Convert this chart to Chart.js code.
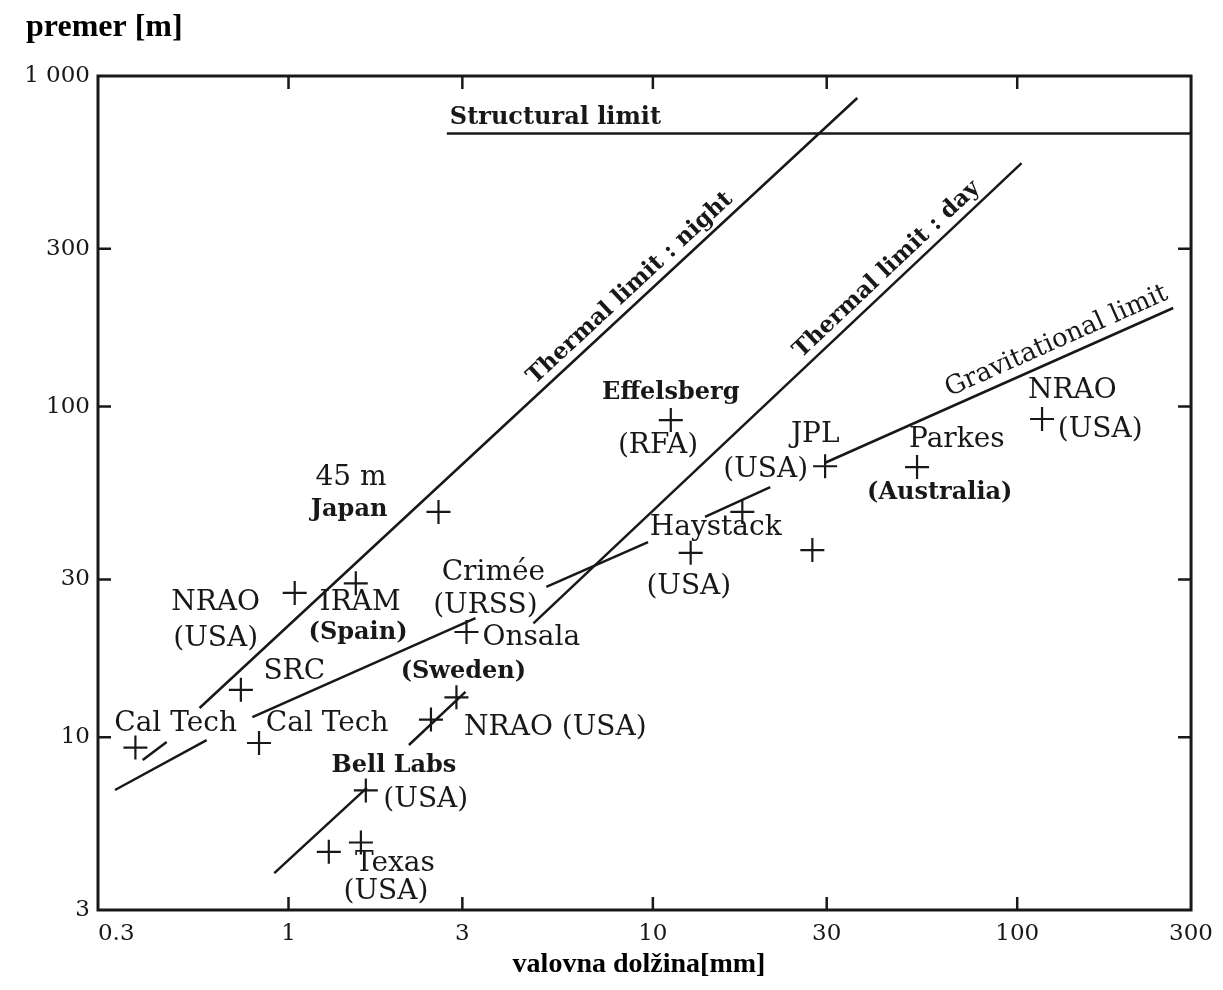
<!DOCTYPE html>
<html>
<head>
<meta charset="utf-8">
<title>Premer anten in valovna dolžina</title>
<script src="https://cdn.jsdelivr.net/npm/chart.js@4.4.1/dist/chart.umd.min.js"></script>
<style>
  html, body { margin: 0; padding: 0; background: #ffffff; }
  #wrap { width: 1223px; height: 990px; }
</style>
</head>
<body>
<div id="wrap"><canvas id="chart" width="1223" height="990"></canvas></div>
<script>
// Axis ticks (log scales)
const wavelengthTicks = [0.3, 1, 3, 10, 30, 100, 300];
const wavelengthTickLabels = ['     0.3', '1', '3', '10', '30', '100', '300'];
const diameterTicks = [3, 10, 30, 100, 300, 1000];
const diameterTickLabels = ['3', '10', '30', '100', '300', '1 000'];
const innerTickWavelengths = [1, 3, 10, 30, 100];
const innerTickDiameters = [10, 30, 100, 300];

// Telescopes: wavelength [mm], diameter [m]
const stationWavelength = [0.38, 0.83, 0.74, 1.04, 1.53, 2.58, 3.08, 2.46, 2.89, 1.63, 1.29, 1.58, 11.2, 12.7, 17.6, 27.4, 29.7, 53.1, 117];
const stationDiameter   = [9.3,  9.6,  13.9, 27.3, 29.2, 48,   20.8, 11.3, 13.2, 6.9,  4.5,  4.8,  91,   36.1, 48,   36.8, 66,   65.6, 91.7];

// Limit curves (null breaks the line where a label sits)
const structuralLimitWavelength = [2.72, 300];
const structuralLimitDiameter   = [670, 670];

const nightLimitWavelength = [0.398, 0.463, null, 0.570, 36.4];
const nightLimitDiameter   = [8.53,  9.67,  null, 12.25, 858];

const dayLimitWavelength = [4.70, 102.8];
const dayLimitDiameter   = [22.1, 545];

const gravityLimitWavelength = [0.334, 0.596, null, 0.796, 3.26, null, 5.10, 9.70, null, 13.9, 21.0, null, 29.6, 268];
const gravityLimitDiameter   = [6.92,  9.8,   null, 11.5,  22.9, null, 28.5, 38.9, null, 46.4, 57.1, null, 67.5, 198.7];

const smallDishLimitWavelength = [0.914, 1.64, null, 2.14, 3.06];
const smallDishLimitDiameter   = [3.88,  7.02, null, 9.47, 13.7];

// Telescope names placed at [text, wavelength, diameter, weight]
const stationLabels = [
  ['Cal Tech', 0.490, 10.96],
  ['Cal Tech', 1.277, 10.96],
  ['SRC', 1.037, 15.74],
  ['NRAO', 0.631, 25.47],
  ['(USA)', 0.631, 19.82],
  ['IRAM', 1.572, 25.47],
  ['(Spain)', 1.552, 20.67, 'bold'],
  ['45 m', 1.485, 60.8],
  ['Japan', 1.466, 48.7, 'bold'],
  ['Crimée', 3.65, 31.4],
  ['(URSS)', 3.47, 24.9],
  ['Onsala', 4.64, 19.96],
  ['(Sweden)', 3.02, 15.74, 'bold'],
  ['NRAO (USA)', 5.40, 10.66],
  ['Bell Labs', 1.947, 8.18, 'bold'],
  ['(USA)', 2.381, 6.46],
  ['Texas', 1.959, 4.135],
  ['(USA)', 1.851, 3.40],
  ['Effelsberg', 11.2, 109.9, 'bold'],
  ['(RFA)', 10.33, 76.0],
  ['Haystack', 14.88, 42.9],
  ['(USA)', 12.55, 28.5],
  ['JPL', 27.9, 82.1],
  ['(USA)', 20.4, 64.3],
  ['Parkes', 68.3, 79.3],
  ['(Australia)', 61.3, 54.8, 'bold'],
  ['NRAO', 141.7, 111.5],
  ['(USA)', 169, 85.0]
];

const ink = '#1a1816';
const serif = '"DejaVu Serif", "Liberation Serif", serif';

const pairs = (xs, ys) => xs.map((x, i) => ({ x: x, y: ys[i] }));

const lineStyle = {
  showLine: true,
  borderColor: ink,
  borderWidth: 2.5,
  pointRadius: 0,
  spanGaps: false,
  fill: false
};

const datasets = [
  Object.assign({ label: 'Structural limit', data: pairs(structuralLimitWavelength, structuralLimitDiameter) }, lineStyle),
  Object.assign({ label: 'Thermal limit : night', data: pairs(nightLimitWavelength, nightLimitDiameter) }, lineStyle),
  Object.assign({ label: 'Thermal limit : day', data: pairs(dayLimitWavelength, dayLimitDiameter) }, lineStyle),
  Object.assign({ label: 'Gravitational limit', data: pairs(gravityLimitWavelength, gravityLimitDiameter) }, lineStyle),
  Object.assign({ label: 'small dishes', data: pairs(smallDishLimitWavelength, smallDishLimitDiameter) }, lineStyle),
  {
    label: 'telescopes',
    data: pairs(stationWavelength, stationDiameter),
    showLine: false,
    pointStyle: 'cross',
    pointRadius: 12,
    pointBorderWidth: 2.2,
    pointBorderColor: ink,
    pointBackgroundColor: ink
  }
];

// Labels that run along the limit lines: text, dataset, position along last segment, offset above it
const lineLabels = [
  { text: 'Thermal limit : night', dataset: 1, t: 0.67, offset: 15, font: 'bold 23px ' },
  { text: 'Thermal limit : day', dataset: 2, t: 0.745, offset: 15, font: 'bold 23px ' },
  { text: 'Gravitational limit', dataset: 3, t: 0.685, offset: 17, font: '26px ' }
];

const decor = {
  id: 'decor',
  afterDatasetsDraw(chart) {
    const { ctx, chartArea: a } = chart;
    const xs = chart.scales.x, ys = chart.scales.y;
    ctx.save();

    // frame
    ctx.strokeStyle = ink;
    ctx.lineWidth = 3;
    ctx.strokeRect(a.left, a.top, a.right - a.left, a.bottom - a.top);

    // inward ticks on all four sides
    ctx.lineWidth = 2.5;
    const tl = 13;
    ctx.beginPath();
    innerTickWavelengths.forEach(v => {
      const px = xs.getPixelForValue(v);
      ctx.moveTo(px, a.bottom); ctx.lineTo(px, a.bottom - tl);
      ctx.moveTo(px, a.top); ctx.lineTo(px, a.top + tl);
    });
    innerTickDiameters.forEach(v => {
      const py = ys.getPixelForValue(v);
      ctx.moveTo(a.left, py); ctx.lineTo(a.left + tl, py);
      ctx.moveTo(a.right, py); ctx.lineTo(a.right - tl, py);
    });
    ctx.stroke();

    // telescope names
    ctx.fillStyle = ink;
    ctx.textAlign = 'center';
    ctx.textBaseline = 'middle';
    stationLabels.forEach(([text, wl, d, weight]) => {
      ctx.font = (weight === 'bold' ? 'bold 24px ' : '28px ') + serif;
      ctx.fillText(text, xs.getPixelForValue(wl), ys.getPixelForValue(d));
    });

    // structural limit caption, sitting on its line
    ctx.font = 'bold 24px ' + serif;
    ctx.textAlign = 'left';
    ctx.fillText('Structural limit', xs.getPixelForValue(structuralLimitWavelength[0]) + 3,
                 ys.getPixelForValue(structuralLimitDiameter[0]) - 16);

    // captions along the sloped limits
    ctx.textAlign = 'center';
    lineLabels.forEach(lb => {
      const pts = chart.getDatasetMeta(lb.dataset).data.filter(p => !p.skip);
      const p0 = pts[pts.length - 2], p1 = pts[pts.length - 1];
      const cx = p0.x + (p1.x - p0.x) * lb.t;
      const cy = p0.y + (p1.y - p0.y) * lb.t;
      const ang = Math.atan2(p1.y - p0.y, p1.x - p0.x);
      ctx.save();
      ctx.translate(cx, cy);
      ctx.rotate(ang);
      ctx.font = lb.font + serif;
      ctx.fillText(lb.text, 0, -lb.offset);
      ctx.restore();
    });

    ctx.restore();
  },
  afterDraw(chart) {
    const ctx = chart.ctx;
    ctx.save();
    ctx.fillStyle = '#000';
    ctx.textBaseline = 'middle';
    ctx.font = 'bold 32px "Liberation Serif", "Times New Roman", serif';
    ctx.textAlign = 'left';
    ctx.fillText('premer [m]', 26, 28);
    ctx.font = 'bold 28px "Liberation Serif", "Times New Roman", serif';
    ctx.textAlign = 'center';
    ctx.fillText('valovna dolžina[mm]', 639, 965);
    ctx.restore();
  }
};

new Chart(document.getElementById('chart'), {
  type: 'scatter',
  data: { datasets: datasets },
  options: {
    responsive: false,
    animation: false,
    events: [],
    layout: { padding: { top: 76, right: 28, left: 0, bottom: 0 } },
    plugins: { legend: { display: false }, tooltip: { enabled: false } },
    scales: {
      x: {
        type: 'logarithmic',
        min: 0.3,
        max: 300,
        grid: { display: false, drawTicks: false },
        border: { display: false },
        afterBuildTicks: s => { s.ticks = wavelengthTicks.map(v => ({ value: v })); },
        afterFit: s => { s.height = 80; },
        ticks: {
          autoSkip: false,
          maxRotation: 0,
          padding: 10,
          color: ink,
          font: { family: serif, size: 23 },
          callback: (v, i) => wavelengthTickLabels[i]
        }
      },
      y: {
        type: 'logarithmic',
        min: 3,
        max: 1000,
        grid: { display: false, drawTicks: false },
        border: { display: false },
        afterBuildTicks: s => { s.ticks = diameterTicks.map(v => ({ value: v })); },
        afterFit: s => { s.width = 98; },
        ticks: {
          autoSkip: false,
          padding: 8,
          color: ink,
          font: { family: serif, size: 23 },
          callback: (v, i) => diameterTickLabels[i]
        }
      }
    }
  },
  plugins: [decor]
});
</script>
</body>
</html>
